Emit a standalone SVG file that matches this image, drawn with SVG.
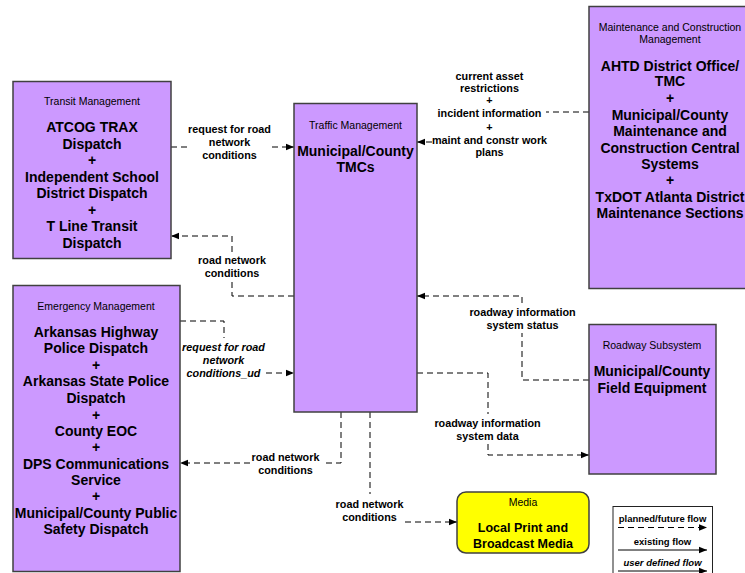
<svg xmlns="http://www.w3.org/2000/svg" width="745" height="573" viewBox="0 0 745 573">
<defs>
<marker id="arr" viewBox="0 0 8 8" refX="8" refY="4" markerWidth="8" markerHeight="8" markerUnits="userSpaceOnUse" orient="auto">
<path d="M0,0.8 L8,4 L0,7.2 Z" fill="#000"/>
</marker>
<style>
.box{fill:#CC99FF;stroke:#404040;stroke-width:1.5}
.media{fill:#FFFF00;stroke:#404040;stroke-width:1.5}
.hdr{font-family:"Liberation Sans",Arial,sans-serif;font-size:10.5px;fill:#000;text-anchor:middle}
.nm{font-family:"Liberation Sans",Arial,sans-serif;font-size:14px;font-weight:bold;fill:#000;text-anchor:middle}
.nm12{font-family:"Liberation Sans",Arial,sans-serif;font-size:12.5px;font-weight:bold;fill:#000;text-anchor:middle}
.lbl{font-family:"Liberation Sans",Arial,sans-serif;font-size:10.8px;font-weight:bold;fill:#000;text-anchor:middle}
.ud{font-style:italic}
.lg{font-family:"Liberation Sans",Arial,sans-serif;font-size:9.5px;font-weight:bold;fill:#000;text-anchor:middle}
.dash{fill:none;stroke:#000;stroke-width:1;stroke-dasharray:6,4}
.solid{fill:none;stroke:#000;stroke-width:1}
</style>
</defs>
<rect width="745" height="573" fill="#FFFFFF"/>

<g id="connectors">
<!-- Transit -> Traffic -->
<path class="dash" d="M171,147 H187"/>
<path class="dash" d="M272,147 H294" marker-end="url(#arr)"/>
<text class="lbl" x="229.5" y="133">request for road</text>
<text class="lbl" x="229.5" y="146">network</text>
<text class="lbl" x="229.5" y="158.5">conditions</text>
<!-- Traffic -> Transit -->
<path class="dash" d="M294,296 H232 V281"/>
<path class="dash" d="M232,252 V236 H171" marker-end="url(#arr)"/>
<text class="lbl" x="232" y="263.5">road network</text>
<text class="lbl" x="232" y="277">conditions</text>
<!-- Emergency -> Traffic (user defined) -->
<path class="dash" d="M180,321 H224 V338"/>
<path class="dash" d="M266,373 H294" marker-end="url(#arr)"/>
<text class="lbl ud" x="223.5" y="350.5">request for road</text>
<text class="lbl ud" x="223.5" y="363.5">network</text>
<text class="lbl ud" x="223.5" y="377">conditions_ud</text>
<!-- Maintenance -> Traffic -->
<path class="dash" d="M589,112 H546"/>
<path class="dash" d="M432,142 H417" marker-end="url(#arr)"/>
<text class="lbl" x="489.5" y="79.5">current asset</text>
<text class="lbl" x="489.5" y="91.5">restrictions</text>
<text class="lbl" x="489.5" y="104">+</text>
<text class="lbl" x="489.5" y="117">incident information</text>
<text class="lbl" x="489.5" y="130.5">+</text>
<text class="lbl" x="489.5" y="144">maint and constr work</text>
<text class="lbl" x="489.5" y="155.5">plans</text>
<!-- Roadway -> Traffic -->
<path class="dash" d="M589,380 H522 V333"/>
<path class="dash" d="M522,303 V296 H417" marker-end="url(#arr)"/>
<text class="lbl" x="522.5" y="315.5">roadway information</text>
<text class="lbl" x="522.5" y="328.5">system status</text>
<!-- Traffic -> Roadway -->
<path class="dash" d="M417,373 H488 V414"/>
<path class="dash" d="M488,444 V455 H589" marker-end="url(#arr)"/>
<text class="lbl" x="487.5" y="427">roadway information</text>
<text class="lbl" x="487.5" y="440">system data</text>
<!-- Traffic -> Emergency -->
<path class="dash" d="M341,412 V463 H322"/>
<path class="dash" d="M250,463 H180" marker-end="url(#arr)"/>
<text class="lbl" x="285.5" y="461">road network</text>
<text class="lbl" x="285.5" y="474">conditions</text>
<!-- Traffic -> Media -->
<path class="dash" d="M370,412 V494"/>
<path class="dash" d="M405,522 H457" marker-end="url(#arr)"/>
<text class="lbl" x="369.5" y="507.5">road network</text>
<text class="lbl" x="369.5" y="520.5">conditions</text>
</g>

<g id="transit">
<rect class="box" x="13" y="81.5" width="158" height="177"/>
<text class="hdr" x="92" y="105">Transit Management</text>
<text class="nm" x="92" y="132">ATCOG TRAX</text>
<text class="nm" x="92" y="148.5">Dispatch</text>
<text class="nm" x="92" y="165">+</text>
<text class="nm" x="92" y="181.5">Independent School</text>
<text class="nm" x="92" y="197.5">District Dispatch</text>
<text class="nm" x="92" y="214.5">+</text>
<text class="nm" x="92" y="231">T Line Transit</text>
<text class="nm" x="92" y="247.5">Dispatch</text>
</g>

<g id="traffic">
<rect class="box" x="294" y="103.5" width="123" height="308.5"/>
<text class="hdr" x="355.5" y="129">Traffic Management</text>
<text class="nm" x="355.5" y="155.5">Municipal/County</text>
<text class="nm" x="355.5" y="172">TMCs</text>
</g>

<g id="maintenance">
<rect class="box" x="589" y="6.5" width="165" height="282"/>
<text class="hdr" x="670" y="31">Maintenance and Construction</text>
<text class="hdr" x="670" y="43">Management</text>
<text class="nm" x="670" y="70.5">AHTD District Office/</text>
<text class="nm" x="670" y="86">TMC</text>
<text class="nm" x="670" y="103">+</text>
<text class="nm" x="670" y="120">Municipal/County</text>
<text class="nm" x="670" y="136">Maintenance and</text>
<text class="nm" x="670" y="152.5">Construction Central</text>
<text class="nm" x="670" y="169">Systems</text>
<text class="nm" x="670" y="185">+</text>
<text class="nm" x="670" y="202">TxDOT Atlanta District</text>
<text class="nm" x="670" y="218">Maintenance Sections</text>
</g>

<g id="emergency">
<rect class="box" x="13" y="285.5" width="167" height="286"/>
<text class="hdr" x="96" y="310">Emergency Management</text>
<text class="nm" x="96" y="337">Arkansas Highway</text>
<text class="nm" x="96" y="353">Police Dispatch</text>
<text class="nm" x="96" y="370">+</text>
<text class="nm" x="96" y="386">Arkansas State Police</text>
<text class="nm" x="96" y="402.5">Dispatch</text>
<text class="nm" x="96" y="419.5">+</text>
<text class="nm" x="96" y="436">County EOC</text>
<text class="nm" x="96" y="452">+</text>
<text class="nm" x="96" y="468.5">DPS Communications</text>
<text class="nm" x="96" y="485">Service</text>
<text class="nm" x="96" y="501">+</text>
<text class="nm" x="96" y="517.5">Municipal/County Public</text>
<text class="nm" x="96" y="534">Safety Dispatch</text>
</g>

<g id="roadway">
<rect class="box" x="589" y="324.5" width="127" height="149.5"/>
<text class="hdr" x="652" y="349">Roadway Subsystem</text>
<text class="nm" x="652" y="376">Municipal/County</text>
<text class="nm" x="652" y="392.5">Field Equipment</text>
</g>

<g id="media">
<rect class="media" x="457" y="492" width="132" height="61" rx="9" ry="9"/>
<text class="hdr" x="523" y="505.5">Media</text>
<text class="nm12" x="523" y="532">Local Print and</text>
<text class="nm12" x="523" y="547.5">Broadcast Media</text>
</g>

<g id="legend">
<rect x="613" y="506.5" width="99.5" height="70" fill="#FFFFFF" stroke="#222" stroke-width="1"/>
<text class="lg" x="662.5" y="522">planned/future flow</text>
<path class="dash" d="M618,527.5 H707" stroke-dasharray="4,3" marker-end="url(#arr)"/>
<text class="lg" x="662.5" y="545">existing flow</text>
<path class="solid" d="M618,550 H707" marker-end="url(#arr)"/>
<text class="lg ud" x="662.5" y="566">user defined flow</text>
<path class="solid" d="M618,571 H707" marker-end="url(#arr)"/>
</g>
</svg>
